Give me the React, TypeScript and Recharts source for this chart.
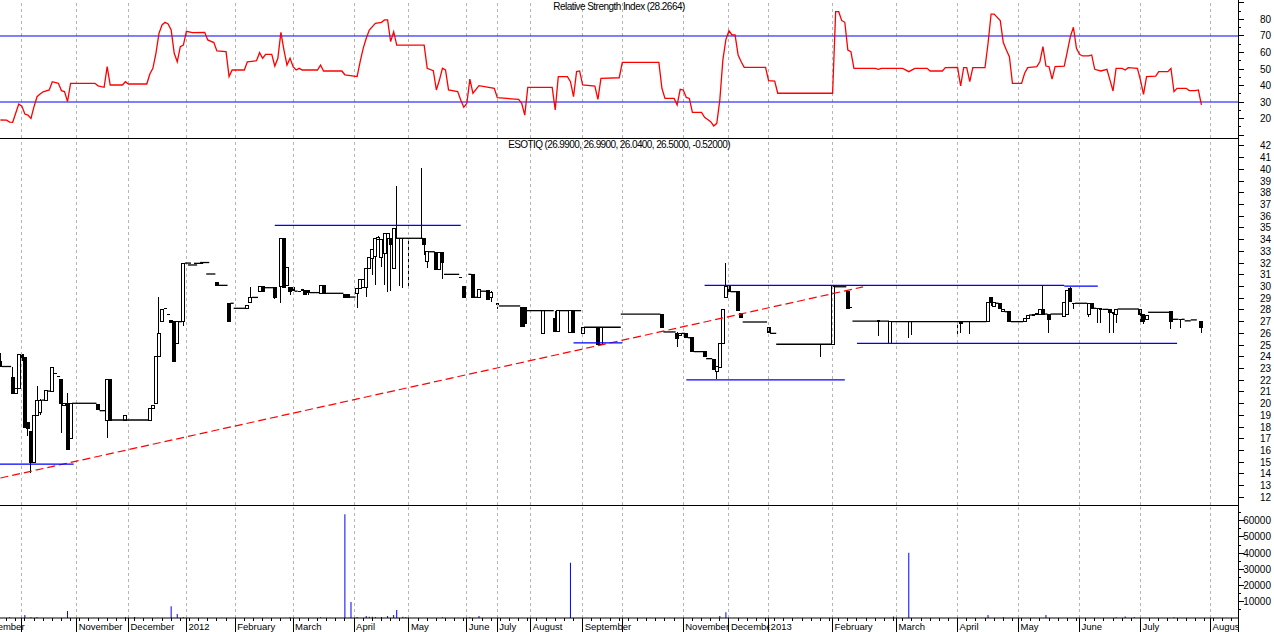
import React from "react"
import { ComposedChart, Line, Bar, XAxis, YAxis, ReferenceLine } from "recharts"

const FONT = '"Liberation Sans", Arial, sans-serif'

// x axis = trading session index
const X_DOMAIN: [number, number] = [-10, 406]
const CHART_W = 1304
const AXIS_W = 36
const SHIFT = -30
const M = { top: 0, right: 0, bottom: 0, left: 0 }

// RSI(14) [session, value]
const rsiPoints: [number, number][] = [
  [0, 19.1], [2, 19.0], [3, 17.8], [4, 17.7], [6, 28.8], [7, 27.5], [8, 22.7], [9, 22.1], [10, 20.1],
  [11, 27.2], [12, 33.2], [13, 34.8], [14, 36.2], [16, 37.3], [17, 42.3], [19, 41.3], [20, 36.9],
  [21, 36.3], [22, 30.2], [23, 41.3], [31, 41.3], [32, 39.8], [34, 38.9], [35, 51.4], [36, 40.3],
  [40, 40.3], [41, 42.3], [42, 40.9], [48, 40.9], [49, 47], [50, 50.4], [51, 59.5], [52, 71.6],
  [53, 76.7], [54, 78.3], [55, 77.3], [56, 73.6], [57, 59.5], [58, 54.4], [59, 63.5], [60, 64.5],
  [61, 72.8], [63, 72], [67, 72.2], [68, 67.6], [70, 66], [71, 60.9], [74, 60.5], [75, 45.4],
  [76, 49.4], [80, 49.4], [81, 54.4], [84, 55], [85, 59.9], [86, 56.5], [87, 58.9], [89, 58.9],
  [90, 51.8], [91, 56.5], [92, 72.2], [93, 61.5], [94, 52.4], [95, 56.5], [96, 51.4], [97, 49.4],
  [98, 50.4], [99, 49.4], [104, 49.4], [105, 52.4], [106, 48.8], [112, 48.8], [113, 46.5],
  [116, 45.7], [117, 45.4], [118, 54.4], [119, 62.5], [120, 68.6], [121, 73.6], [123, 77.7],
  [125, 78.3], [126, 79.7], [127, 79.7], [128, 66.6], [129, 72.6], [130, 64.5], [138, 64.5],
  [139, 64.5], [140, 50.4], [142, 49.0], [143, 37.3], [144, 43.3], [145, 50.4], [146, 49.4],
  [147, 37.3], [150, 36.3], [151, 31.2], [152, 26.8], [153, 29.2], [154, 43.9], [155, 35.3],
  [157, 39.9], [162, 38.3], [163, 32.6], [170, 31.6], [171, 29.2], [172, 22.1], [173, 38.9],
  [181, 38.9], [182, 25.2], [183, 45.4], [186, 45.4], [187, 42.3], [188, 33.2], [189, 48.4],
  [190, 48.8], [191, 40.3], [195, 39.7], [196, 31.6], [197, 44.3], [203, 44.7], [204, 54.0],
  [216, 54.0], [217, 38.3], [218, 32.2], [221, 32.2], [222, 28.2], [223, 37.7], [224, 37.3],
  [225, 32.8], [226, 32.2], [227, 23.7], [230, 23.7], [231, 20.7], [233, 18.1], [234, 15.5],
  [235, 17.1], [236, 31.2], [237, 55.5], [238, 68], [239, 73.2], [240, 70.6], [241, 70.6],
  [242, 58.5], [243, 54.4], [244, 51], [251, 51], [252, 42.9], [254, 42.7], [255, 35.3],
  [273, 35.3], [274, 84.7], [275, 84.7], [276, 79.3], [277, 78.3], [278, 61.5], [279, 60.5],
  [280, 50.4], [287, 50.4], [288, 49.8], [289, 50.4], [296, 50.4], [298, 48.4], [300, 50.4],
  [304, 50.4], [305, 48.8], [309, 48.8], [310, 50.8], [314, 51], [315, 39.7], [316, 50.8],
  [317, 50.8], [318, 42.3], [319, 50.8], [323, 50.8], [324, 65.6], [325, 83.3], [326, 83.3],
  [328, 79.3], [329, 66], [330, 61.5], [331, 57.5], [332, 41.3], [335, 41.3], [336, 47.4],
  [337, 50.8], [340, 51.4], [341, 54.4], [342, 63.5], [343, 51.8], [344, 51.4], [345, 43.9],
  [346, 51.4], [349, 51.8], [350, 60.5], [351, 69.6], [352, 75.3], [353, 62.5], [354, 58.9],
  [355, 57.9], [357, 57.9], [358, 58.5], [359, 49.8], [361, 48.8], [363, 49.8], [364, 43.3],
  [365, 36.7], [366, 50.4], [368, 50.4], [369, 49.4], [370, 50.8], [373, 50.4], [374, 43.3],
  [375, 34.6], [376, 45.4], [379, 45.7], [380, 48.4], [383, 48.4], [384, 50.4], [385, 36.3],
  [386, 38.3], [389, 38.3], [390, 36.9], [392, 36.9], [393, 37.3], [394, 28.27],
]

// price candles [session, open, high, low, close]
const candles: [number, number, number, number, number][] = [
  [0, 23.6, 24.3, 23.15, 23.15], [4, 22.27, 23.17, 20.9, 20.9], [5, 20.9, 21.3, 20.9, 21.3],
  [6, 21.3, 24.2, 21.3, 24.2], [7, 24.2, 24.2, 23.7, 23.7], [8, 23.9, 23.9, 18.0, 18.0],
  [9, 18.4, 18.4, 17.2, 17.9], [10, 17.6, 17.6, 14.05, 15.0], [11, 15.0, 19.0, 15.0, 19.0],
  [12, 19.0, 21.5, 19.0, 20.3], [13, 19.2, 20.4, 19.0, 20.3], [15, 20.3, 21.1, 20.3, 21.1],
  [17, 21.05, 23.1, 21.05, 23.1], [18, 22.6, 22.6, 22.6, 22.6], [19, 22.3, 22.3, 22.3, 22.3],
  [20, 22.1, 22.1, 17.5, 20.0], [21, 19.83, 20.03, 19.83, 20.03], [22, 20.0, 20.9, 16.1, 16.1],
  [23, 17.0, 20.0, 17.0, 20.0], [32, 19.9, 19.9, 19.5, 19.5], [35, 18.6, 22.1, 17.1, 22.1],
  [36, 22.1, 22.1, 18.6, 18.6], [41, 18.6, 19.0, 18.6, 19.0], [49, 18.6, 19.57, 18.6, 19.57],
  [50, 19.6, 19.8, 19.6, 19.8], [51, 20.0, 24.0, 20.0, 24.0], [52, 24.0, 29.1, 24.0, 26.0],
  [53, 27.0, 28.1, 27.0, 28.05], [54, 28.15, 28.15, 28.15, 28.15], [55, 27.6, 27.6, 27.6, 27.6],
  [56, 27.08, 27.08, 26.94, 26.94], [57, 27.0, 27.0, 23.6, 23.6], [58, 25.1, 27.0, 25.1, 27.0],
  [60, 27.0, 32.0, 26.6, 32.0], [71, 30.36, 30.36, 30.1, 30.1], [75, 28.57, 28.57, 27.0, 27.0],
  [81, 28.1, 28.4, 28.1, 28.4], [82, 28.6, 30.0, 28.6, 29.07], [85, 29.56, 29.98, 29.56, 29.98],
  [86, 29.98, 29.98, 29.56, 29.56], [90, 29.93, 29.93, 28.9, 29.05], [92, 30.0, 34.12, 28.6, 34.12],
  [93, 34.1, 34.1, 29.9, 29.9], [94, 30.05, 31.64, 30.05, 31.64], [95, 29.9, 29.9, 29.3, 29.6],
  [96, 29.9, 29.9, 29.6, 29.7], [98, 29.6, 29.6, 29.6, 29.6], [99, 29.6, 29.7, 29.6, 29.7],
  [100, 29.7, 29.7, 29.3, 29.3], [101, 29.7, 29.7, 29.3, 29.45], [105, 29.42, 30.05, 29.42, 30.05],
  [106, 30.05, 30.05, 29.42, 29.42], [113, 29.36, 29.36, 29.08, 29.08], [114, 29.3, 29.3, 29.08, 29.1],
  [117, 29.42, 29.85, 28.14, 29.85], [118, 29.85, 30.56, 29.85, 30.56], [119, 29.9, 30.6, 29.9, 30.6],
  [120, 29.93, 31.56, 29.13, 31.56], [121, 31.56, 32.5, 31.56, 32.5], [122, 32.4, 33.12, 31.0, 33.12],
  [123, 32.55, 34.12, 30.13, 34.12], [124, 34.0, 34.3, 34.0, 34.2], [125, 32.5, 34.0, 31.7, 34.0],
  [126, 32.84, 34.49, 30.13, 34.49], [127, 34.12, 34.55, 29.56, 34.55], [128, 34.06, 34.1, 29.6, 33.55],
  [129, 31.56, 34.98, 31.56, 34.98], [130, 34.12, 38.58, 34.12, 34.12], [131, 34.12, 34.12, 30.04, 34.12],
  [132, 34.12, 34.12, 29.9, 34.12], [134, 34.12, 34.12, 29.76, 34.12], [138, 34.12, 40.1, 34.12, 34.12],
  [139, 34.06, 34.06, 32.7, 33.63], [140, 32.12, 32.97, 31.56, 32.97], [143, 32.92, 32.92, 31.47, 31.47],
  [144, 31.47, 32.9, 31.47, 32.9], [145, 32.92, 32.92, 30.62, 32.04], [151, 30.79, 30.79, 30.79, 30.79],
  [152, 30.04, 30.04, 29.08, 29.08], [155, 31.04, 31.04, 29.08, 29.08], [157, 29.08, 29.76, 29.08, 29.76],
  [160, 29.64, 29.64, 28.85, 28.85], [161, 29.1, 29.6, 28.7, 29.5], [163, 28.51, 28.51, 28.05, 28.51],
  [171, 28.23, 28.23, 26.57, 26.57], [172, 28.2, 28.2, 26.57, 26.8], [178, 26.0, 27.94, 26.0, 27.94],
  [182, 27.29, 27.94, 26.15, 26.15], [183, 26.15, 27.94, 26.15, 27.94], [187, 26.1, 27.94, 26.1, 27.94],
  [188, 27.94, 27.94, 26.1, 26.1], [191, 26.0, 26.52, 26.0, 26.52], [196, 26.52, 26.52, 25.09, 25.09],
  [197, 25.09, 26.52, 25.09, 26.52], [217, 27.57, 27.65, 26.52, 26.52], [222, 26.0, 26.12, 24.86, 25.58],
  [223, 25.8, 26.0, 25.8, 26.0], [225, 26.0, 26.0, 25.67, 25.67], [227, 25.63, 25.63, 24.44, 24.44],
  [231, 24.44, 24.44, 24.0, 24.0], [234, 23.78, 23.84, 22.93, 22.93], [235, 22.78, 23.15, 22.1, 23.15],
  [236, 23.1, 25.15, 23.1, 25.15], [237, 25.15, 28.08, 25.15, 28.08], [238, 29.08, 32.03, 29.08, 29.98],
  [239, 30.04, 30.04, 29.56, 29.56], [242, 29.56, 29.56, 27.94, 27.94], [243, 27.71, 27.71, 27.37, 27.37],
  [252, 26.52, 26.52, 26.06, 26.06], [269, 25.07, 25.07, 24.0, 25.07], [273, 25.07, 30.04, 25.07, 30.04],
  [278, 29.56, 29.56, 28.14, 28.14], [279, 28.2, 28.2, 28.2, 28.2], [288, 27.05, 27.05, 25.8, 27.05],
  [292, 25.1, 27.05, 25.1, 27.05], [298, 27.03, 27.03, 25.58, 27.03], [299, 27.03, 27.03, 25.9, 27.03],
  [314, 27.0, 27.0, 25.67, 27.0], [315, 27.0, 27.0, 26.0, 26.85], [318, 27.0, 27.0, 25.95, 27.0],
  [324, 27.0, 28.65, 27.0, 28.65], [325, 29.08, 29.13, 28.3, 28.65], [326, 28.3, 28.65, 28.3, 28.6],
  [328, 28.57, 28.57, 28.14, 28.14], [329, 27.85, 28.0, 27.85, 28.0], [331, 27.85, 27.85, 27.0, 27.0],
  [336, 27.0, 27.28, 27.0, 27.28], [337, 27.28, 27.5, 27.28, 27.5], [339, 27.57, 27.57, 27.57, 27.57],
  [340, 27.65, 27.65, 27.65, 27.65], [341, 27.65, 28.05, 27.65, 28.05], [342, 28.05, 30.13, 27.65, 27.65],
  [344, 27.57, 27.65, 26.06, 27.2], [349, 27.48, 28.65, 27.48, 28.65], [350, 27.57, 29.7, 27.57, 29.7],
  [351, 29.85, 29.95, 28.7, 28.7], [352, 28.57, 28.57, 28.05, 28.57], [357, 27.65, 28.57, 27.4, 28.57],
  [358, 28.57, 28.57, 28.14, 28.14], [360, 28.14, 28.14, 26.86, 28.14], [361, 28.08, 28.08, 26.86, 28.08],
  [364, 28.0, 28.0, 26.0, 27.75], [365, 27.75, 27.75, 26.0, 27.75], [366, 27.57, 28.05, 26.9, 28.05],
  [374, 28.08, 28.08, 26.7, 27.65], [375, 27.65, 27.65, 26.8, 27.0], [376, 27.2, 27.5, 27.2, 27.5],
  [384, 27.85, 27.85, 26.35, 27.0], [387, 27.2, 27.2, 26.5, 27.2], [394, 26.99, 26.99, 26.04, 26.5],
]

// runs of sessions without trades [from, to, price]
const flats: [number, number, number][] = [
  [1, 3, 23.17], [14, 14, 20.3], [16, 16, 21.07], [24, 31, 20.03], [33, 34, 19.4], [37, 48, 18.6],
  [59, 59, 27.0], [61, 62, 32.0], [62, 64, 31.84], [64, 66, 31.98], [66, 68, 32.05], [68, 70, 31.07],
  [72, 74, 30.1], [76, 76, 28.57], [77, 80, 28.14], [83, 84, 29.07], [87, 89, 29.9], [97, 97, 29.6],
  [102, 104, 29.48], [107, 112, 29.42], [115, 116, 29.1], [130, 138, 34.12], [141, 142, 32.97],
  [146, 150, 31.04], [154, 154, 31.04], [156, 156, 29.08], [158, 159, 29.6], [164, 170, 28.34],
  [173, 181, 27.94], [184, 186, 27.94], [189, 190, 27.94], [192, 203, 26.52], [204, 216, 27.65],
  [218, 221, 26.12], [224, 224, 26.0], [226, 226, 25.63], [228, 230, 24.44], [232, 233, 23.84],
  [240, 241, 29.56], [244, 251, 26.97], [253, 254, 26.0], [255, 272, 25.07], [274, 277, 29.98],
  [280, 291, 27.05], [293, 323, 27.0], [327, 327, 28.57], [330, 330, 27.85], [332, 335, 27.0],
  [338, 338, 27.57], [343, 343, 27.65], [345, 348, 27.65], [353, 356, 28.57], [359, 359, 28.14],
  [362, 363, 28.05], [367, 373, 28.08], [377, 383, 27.8], [385, 386, 27.2], [388, 388, 27.2],
  [389, 390, 27.07], [391, 392, 27.15],
]

// drawn support / resistance levels [from, to, price]
const levels: [number, number, number][] = [
  [-10, 24, 14.84], [90, 151, 35.23], [188, 204, 25.18], [231, 349, 30.1],
  [349, 360, 30.04], [225, 277, 22.02], [281, 386, 25.15],
]
const trendLine: [number, number][] = [[0, 13.65], [283, 29.97]]

// volume [session, shares]
const volumes: [number, number][] = [
  [3, 500], [8, 1800], [10, 500], [12, 500], [22, 4300], [41, 500], [44, 600], [56, 7300],
  [58, 2400], [60, 500], [95, 400], [105, 400], [113, 64100], [115, 9800], [117, 600], [120, 1200],
  [121, 800], [122, 800], [123, 600], [125, 600], [127, 1200], [129, 1800], [130, 4900], [132, 800],
  [133, 600], [145, 500], [154, 500], [157, 1200], [187, 34100], [236, 1200], [238, 3600],
  [293, 1000], [298, 40300], [324, 1800], [329, 500], [343, 1800], [366, 400], [369, 1000],
  [372, 500], [374, 500], [385, 500],
]

const monthStarts = [7, 25, 42, 61, 77, 96, 116, 134, 153, 163, 174, 191, 204, 224, 239, 252, 273, 294, 314, 334, 354, 374, 397]
const monthLabels: [number, string][] = [
  [-8, "September"], [25, "November"], [42, "December"], [61, "2012"], [77, "February"],
  [96, "March"], [116, "April"], [134, "May"], [153, "June"], [163, "July"], [174, "August"],
  [191, "September"], [224, "November"], [239, "December"], [252, "2013"], [273, "February"],
  [294, "March"], [314, "April"], [334, "May"], [354, "June"], [374, "July"], [397, "August"],
]
const rsiTicks = [10, 15, 20, 25, 30, 35, 40, 45, 50, 55, 60, 65, 70, 75, 80, 85, 90]
const rsiLabels = [20, 30, 40, 50, 60, 70, 80]
const priceTicks = [12, 13, 14, 15, 16, 17, 18, 19, 20, 21, 22, 23, 24, 25, 26, 27, 28, 29, 30, 31, 32, 33, 34, 35, 36, 37, 38, 39, 40, 41, 42]
const volumeTicks = [5000, 10000, 15000, 20000, 25000, 30000, 35000, 40000, 45000, 50000, 55000, 60000, 65000]
const volumeLabels = [10000, 20000, 30000, 40000, 50000, 60000]

const rsiData = rsiPoints.map(([d, v]) => ({ d, v }))
const candleData = candles.map(([d, o, h, l, c]) => ({ d, o, h, l, c }))
const volumeData = volumes.map(([d, v]) => ({ d, v }))

const labelByDay = new Map(monthLabels)
const majorDays = new Set<number>([...monthStarts, ...monthLabels.map((m) => m[0])])
const minorDays: number[] = []
for (let d = -7; d < 406; d += 3) if (!majorDays.has(d)) minorDays.push(d)
const xTicks = [...minorDays, ...majorDays].sort((a, b) => a - b)

function Candle(props: any) {
  const { x, y, width, height, payload } = props
  if (!payload || !Number.isFinite(x) || !Number.isFinite(y)) return null
  const { o, h, l, c } = payload
  const span = h - l
  const toY = (v: number) => (span > 0 ? y + ((h - v) / span) * height : y)
  const cx = x + width / 2
  const top = toY(Math.max(o, c))
  const bottom = toY(Math.min(o, c))
  return (
    <g shapeRendering="crispEdges">
      {span > 0 && <line x1={cx} x2={cx} y1={y} y2={y + height} stroke="#000" />}
      {bottom - top < 1.5 ? (
        <line x1={cx - 1.5} x2={cx + 1.5} y1={top} y2={top} stroke="#000" strokeWidth={1.3} />
      ) : (
        <rect x={cx - 1.5} y={top} width={3} height={bottom - top} fill={c >= o ? "#fff" : "#000"} stroke="#000" />
      )}
    </g>
  )
}

function makeYTick(labels: (v: number) => boolean, major: (v: number) => boolean) {
  return (p: any) => {
    const { x, y, payload } = p
    const v = payload.value
    return (
      <g>
        <line x1={x} x2={x + (major(v) ? 6 : 3)} y1={y} y2={y} stroke="#000" shapeRendering="crispEdges" />
        {labels(v) && (
          <text x={x + 33} y={y} textAnchor="end" dominantBaseline="central" fontFamily={FONT} fontSize={10} fill="#000">
            {v}
          </text>
        )}
      </g>
    )
  }
}

const rsiTick = makeYTick((v) => rsiLabels.includes(v), (v) => v % 10 === 0)
const priceTick = makeYTick(() => true, () => true)
const volumeTick = makeYTick((v) => volumeLabels.includes(v), (v) => v % 10000 === 0)

function xTick(p: any) {
  const { x, y, payload } = p
  const d = payload.value
  if (!majorDays.has(d)) {
    return <line x1={x} x2={x} y1={y} y2={y + 3} stroke="#000" shapeRendering="crispEdges" />
  }
  const label = labelByDay.get(d)
  return (
    <g>
      {label && <rect x={x + 1} y={y + 2} width={label.length * 5 + 2} height={12} fill="#fff" />}
      <line x1={x} x2={x} y1={y} y2={y + 14} stroke="#000" shapeRendering="crispEdges" />
      {label && (
        <text x={x + 2} y={y + 11.5} fontFamily={FONT} fontSize={9.5} fill="#000">
          {label}
        </text>
      )}
    </g>
  )
}

const gridLines = (key: string) =>
  monthStarts.map((d) => (
    <ReferenceLine key={key + d} x={d} stroke="#b4b4b4" strokeDasharray="3 3" shapeRendering="crispEdges" />
  ))

const hline = (top: number) => (
  <div style={{ position: "absolute", left: 0, top, width: 1239, height: 1, background: "#000" }} />
)

export default function App() {
  return (
    <div style={{ position: "absolute", left: 0, top: 0, width: 1274, height: 632, overflow: "hidden", background: "#fff" }}>
      {/* RSI */}
      <div style={{ position: "absolute", left: SHIFT, top: 0 }}>
        <ComposedChart width={CHART_W} height={138} data={rsiData} margin={M}>
          <XAxis type="number" dataKey="d" domain={X_DOMAIN} allowDataOverflow hide />
          <YAxis orientation="right" width={AXIS_W} domain={[8.2, 91.8]} allowDataOverflow ticks={rsiTicks}
            interval={0} axisLine={false} tickLine={false} tickSize={0} tickMargin={0} tick={rsiTick} />
          {gridLines("r")}
          <ReferenceLine y={70} stroke="#0000ff" />
          <ReferenceLine y={30} stroke="#0000ff" />
          <Line type="linear" dataKey="v" stroke="#ff0000" strokeWidth={1.3} dot={false} isAnimationActive={false} />
        </ComposedChart>
      </div>

      {/* price */}
      <div style={{ position: "absolute", left: SHIFT, top: 138 }}>
        <ComposedChart width={CHART_W} height={367} data={candleData} margin={M}>
          <XAxis type="number" dataKey="d" domain={X_DOMAIN} allowDataOverflow hide />
          <YAxis orientation="right" width={AXIS_W} domain={[11.343, 42.683]} allowDataOverflow ticks={priceTicks}
            interval={0} axisLine={false} tickLine={false} tickSize={0} tickMargin={0} tick={priceTick} />
          {gridLines("p")}
          <ReferenceLine
            segment={[{ x: trendLine[0][0], y: trendLine[0][1] }, { x: trendLine[1][0], y: trendLine[1][1] }]}
            stroke="#ff0000" strokeWidth={1.2} strokeDasharray="8 4"
          />
          {levels.map(([a, b, p], i) => (
            <ReferenceLine key={"lv" + i} segment={[{ x: a, y: p }, { x: b, y: p }]} stroke="#0000ff" strokeWidth={1.2} />
          ))}
          {flats.map(([a, b, p], i) => (
            <ReferenceLine key={"fl" + i} segment={[{ x: a - 0.5, y: p }, { x: b + 0.5, y: p }]} stroke="#000" strokeWidth={1.3} />
          ))}
          <Bar dataKey={(r: any) => [r.l, r.h]} barSize={3} shape={(p: any) => <Candle {...p} />} isAnimationActive={false} />
        </ComposedChart>
      </div>

      {/* volume */}
      <div style={{ position: "absolute", left: SHIFT, top: 505 }}>
        <ComposedChart width={CHART_W} height={127} data={volumeData} margin={M}>
          <XAxis type="number" dataKey="d" domain={X_DOMAIN} allowDataOverflow ticks={xTicks} interval={0} height={14}
            axisLine={{ stroke: "#000" }} tickLine={false} tickSize={0} tickMargin={0} tick={xTick} />
          <YAxis orientation="right" width={AXIS_W} domain={[0, 69750]} allowDataOverflow ticks={volumeTicks}
            interval={0} axisLine={false} tickLine={false} tickSize={0} tickMargin={0} tick={volumeTick} />
          {gridLines("v")}
          <Bar dataKey="v" barSize={1} fill="#0000ff" isAnimationActive={false} />
        </ComposedChart>
      </div>

      {hline(138)}
      {hline(505)}
      <div style={{ position: "absolute", left: 1239, top: 619, width: 35, height: 13, background: "#fff" }} />
      <div style={{ position: "absolute", left: 1238, top: 0, width: 1, height: 632, background: "#000" }} />

      <div style={{ position: "absolute", left: 0, top: 0, width: 1238, textAlign: "center", fontFamily: FONT, fontSize: 10, lineHeight: "13px", letterSpacing: -0.55, color: "#000" }}>
        Relative Strength Index (28.2664)
      </div>
      <div style={{ position: "absolute", left: 0, top: 138, width: 1238, textAlign: "center", fontFamily: FONT, fontSize: 10, lineHeight: "13px", letterSpacing: -0.6, color: "#000" }}>
        ESOTIQ (26.9900, 26.9900, 26.0400, 26.5000, -0.52000)
      </div>
    </div>
  )
}
